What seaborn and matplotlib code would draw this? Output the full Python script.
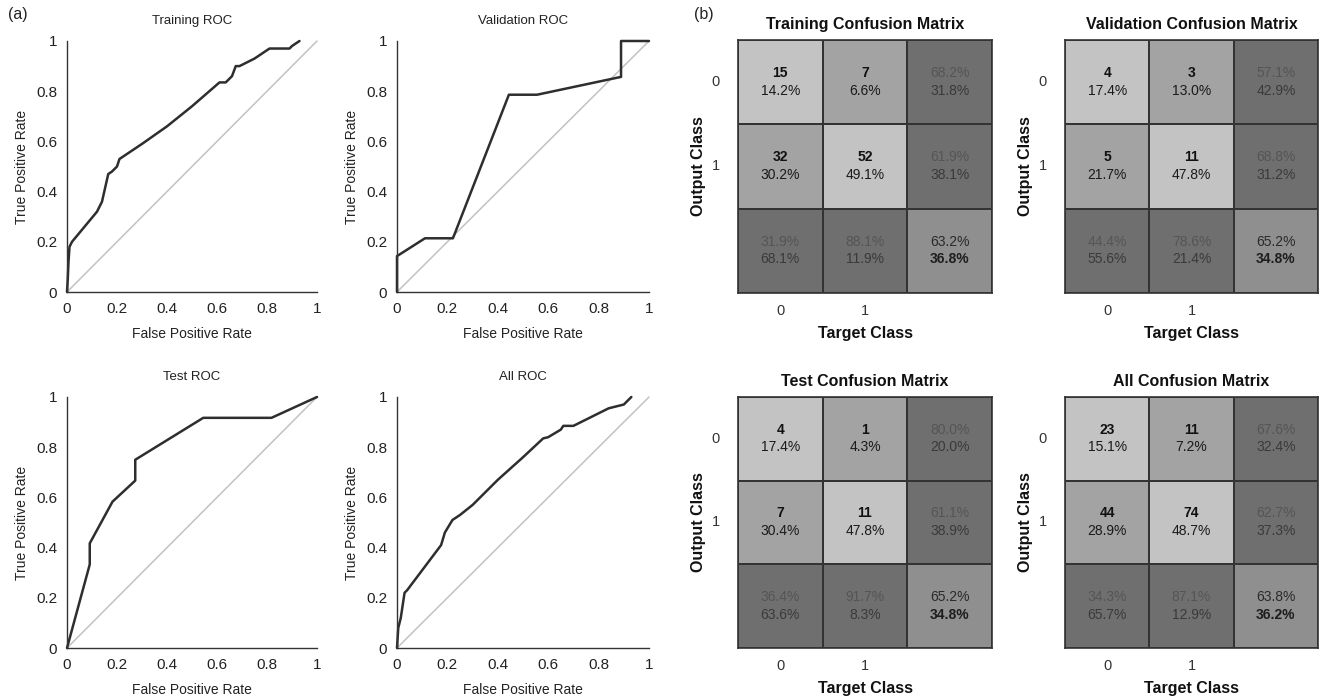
import matplotlib
matplotlib.use("Agg")
import matplotlib.pyplot as plt
from matplotlib.colors import ListedColormap
import seaborn as sns

# ROC curves
train_fpr = [0, 0.003, 0.006, 0.01, 0.02, 0.12, 0.14, 0.165, 0.18, 0.2, 0.21, 0.3, 0.4, 0.5,
             0.61, 0.635, 0.66, 0.675, 0.69, 0.75, 0.81, 0.89, 0.9, 0.93]
train_tpr = [0, 0.05, 0.12, 0.18, 0.2, 0.32, 0.36, 0.47, 0.48, 0.5, 0.53, 0.59, 0.66, 0.74,
             0.835, 0.835, 0.86, 0.9, 0.9, 0.93, 0.97, 0.97, 0.98, 1.0]

val_fpr = [0, 0, 0.111, 0.222, 0.444, 0.556, 0.889, 0.889, 1.0]
val_tpr = [0, 0.143, 0.214, 0.214, 0.786, 0.786, 0.857, 1.0, 1.0]

test_fpr = [0, 0.091, 0.091, 0.182, 0.273, 0.273, 0.545, 0.818, 1.0]
test_tpr = [0, 0.333, 0.417, 0.583, 0.667, 0.75, 0.917, 0.917, 1.0]

all_fpr = [0, 0.005, 0.015, 0.03, 0.04, 0.1, 0.175, 0.19, 0.22, 0.25, 0.3, 0.4, 0.5,
           0.58, 0.6, 0.65, 0.66, 0.7, 0.75, 0.84, 0.9, 0.93]
all_tpr = [0, 0.08, 0.12, 0.22, 0.23, 0.31, 0.41, 0.46, 0.51, 0.53, 0.57, 0.67, 0.76,
           0.835, 0.84, 0.87, 0.885, 0.885, 0.91, 0.955, 0.97, 1.0]

# confusion matrix counts [output][target]
train_counts = [[15, 7], [32, 52]]
val_counts = [[4, 3], [5, 11]]
test_counts = [[4, 1], [7, 11]]
all_counts = [[23, 11], [44, 74]]

class_labels = ["0", "1"]

W, H = 1319, 698

sns.set_theme(style="white")
plt.rcParams["font.family"] = ["Liberation Sans", "DejaVu Sans"]


def px_rect(l, r, t, b):
    return [l / W, 1 - b / H, (r - l) / W, (b - t) / H]


def draw_roc(ax, fpr, tpr, title):
    ax.plot([0, 1], [0, 1], color="#c2c2c2", lw=1.1)
    sns.lineplot(x=fpr, y=tpr, estimator=None, sort=False, color="#2e2e2e", lw=1.8, ax=ax)
    for line in ax.lines:
        line.set_clip_on(False)
    ax.set_xlim(0, 1)
    ax.set_ylim(0, 1)
    ticks = [0, 0.2, 0.4, 0.6, 0.8, 1]
    labels = ["0", "0.2", "0.4", "0.6", "0.8", "1"]
    ax.set_xticks(ticks, labels)
    ax.set_yticks(ticks, labels)
    ax.tick_params(direction="in", length=4, width=0.8, color="#333333",
                   labelsize=11, labelcolor="#222222", pad=7)
    for side in ["top", "right"]:
        ax.spines[side].set_visible(False)
    for side in ["left", "bottom"]:
        ax.spines[side].set_color("#333333")
        ax.spines[side].set_linewidth(1.0)
    ax.set_title(title, fontsize=9.5, color="#222222", pad=12)
    ax.set_xlabel("False Positive Rate", fontsize=10, color="#222222", labelpad=8)
    ax.set_ylabel("True Positive Rate", fontsize=10, color="#222222", labelpad=5)


def draw_cm(ax, counts, title):
    codes = [[0, 1, 2], [1, 0, 2], [2, 2, 3]]
    cmap = ListedColormap(["#c3c3c3", "#a3a3a3", "#6f6f6f", "#8f8f8f"])
    sns.heatmap(codes, cmap=cmap, vmin=-0.5, vmax=3.5, cbar=False,
                linewidths=1.2, linecolor="#333333", ax=ax)
    total = sum(sum(r) for r in counts)
    fs = 10
    for i in range(2):
        for j in range(2):
            ax.text(j + 0.5, i + 0.39, str(counts[i][j]), ha="center", va="center",
                    fontsize=fs, fontweight="bold", color="#111111")
            ax.text(j + 0.5, i + 0.6, f"{100 * counts[i][j] / total:.1f}%", ha="center",
                    va="center", fontsize=fs, color="#1a1a1a")
    # row margins (precision)
    for i in range(2):
        rs = sum(counts[i])
        good = 100 * counts[i][i] / rs
        ax.text(2.5, i + 0.39, f"{good:.1f}%", ha="center", va="center",
                fontsize=fs, color="#555555")
        ax.text(2.5, i + 0.6, f"{100 - good:.1f}%", ha="center", va="center",
                fontsize=fs, color="#3a3a3a")
    # column margins (recall)
    for j in range(2):
        cs = counts[0][j] + counts[1][j]
        good = 100 * counts[j][j] / cs
        ax.text(j + 0.5, 2.39, f"{good:.1f}%", ha="center", va="center",
                fontsize=fs, color="#555555")
        ax.text(j + 0.5, 2.6, f"{100 - good:.1f}%", ha="center", va="center",
                fontsize=fs, color="#3a3a3a")
    acc = 100 * (counts[0][0] + counts[1][1]) / total
    ax.text(2.5, 2.39, f"{acc:.1f}%", ha="center", va="center", fontsize=fs, color="#2a2a2a")
    ax.text(2.5, 2.6, f"{100 - acc:.1f}%", ha="center", va="center", fontsize=fs,
            fontweight="bold", color="#1e1e1e")
    ax.set_xticks([0.5, 1.5], class_labels)
    ax.set_yticks([0.5, 1.5], class_labels, rotation=0)
    ax.tick_params(length=0, labelsize=10.5, labelcolor="#333333", pad=8)
    ax.tick_params(axis="y", pad=13)
    for s in ax.spines.values():
        s.set_visible(True)
        s.set_color("#333333")
        s.set_linewidth(1.2)
    ax.set_title(title, fontsize=11.5, fontweight="bold", color="#111111", pad=8)
    ax.set_xlabel("Target Class", fontsize=11.5, fontweight="bold", color="#111111", labelpad=6)
    ax.set_ylabel("Output Class", fontsize=11.5, fontweight="bold", color="#111111", labelpad=4)


fig = plt.figure(figsize=(W / 100, H / 100), dpi=100)

roc_specs = [
    ((67, 317, 41, 292), train_fpr, train_tpr, "Training ROC"),
    ((397, 649, 41, 292), val_fpr, val_tpr, "Validation ROC"),
    ((67, 317, 397, 648), test_fpr, test_tpr, "Test ROC"),
    ((397, 649, 397, 648), all_fpr, all_tpr, "All ROC"),
]
for rect, fpr, tpr, title in roc_specs:
    ax = fig.add_axes(px_rect(*rect))
    draw_roc(ax, fpr, tpr, title)

cm_specs = [
    ((738, 992, 40, 293), train_counts, "Training Confusion Matrix"),
    ((1065, 1318, 40, 293), val_counts, "Validation Confusion Matrix"),
    ((738, 992, 397, 648), test_counts, "Test Confusion Matrix"),
    ((1065, 1318, 397, 648), all_counts, "All Confusion Matrix"),
]
for rect, counts, title in cm_specs:
    ax = fig.add_axes(px_rect(*rect))
    draw_cm(ax, counts, title)

fig.text(8 / W, 1 - 14 / H, "(a)", fontsize=11.5, color="#222222", va="center")
fig.text(694 / W, 1 - 14 / H, "(b)", fontsize=11.5, color="#222222", va="center")

fig.savefig("out.png", dpi=100)
